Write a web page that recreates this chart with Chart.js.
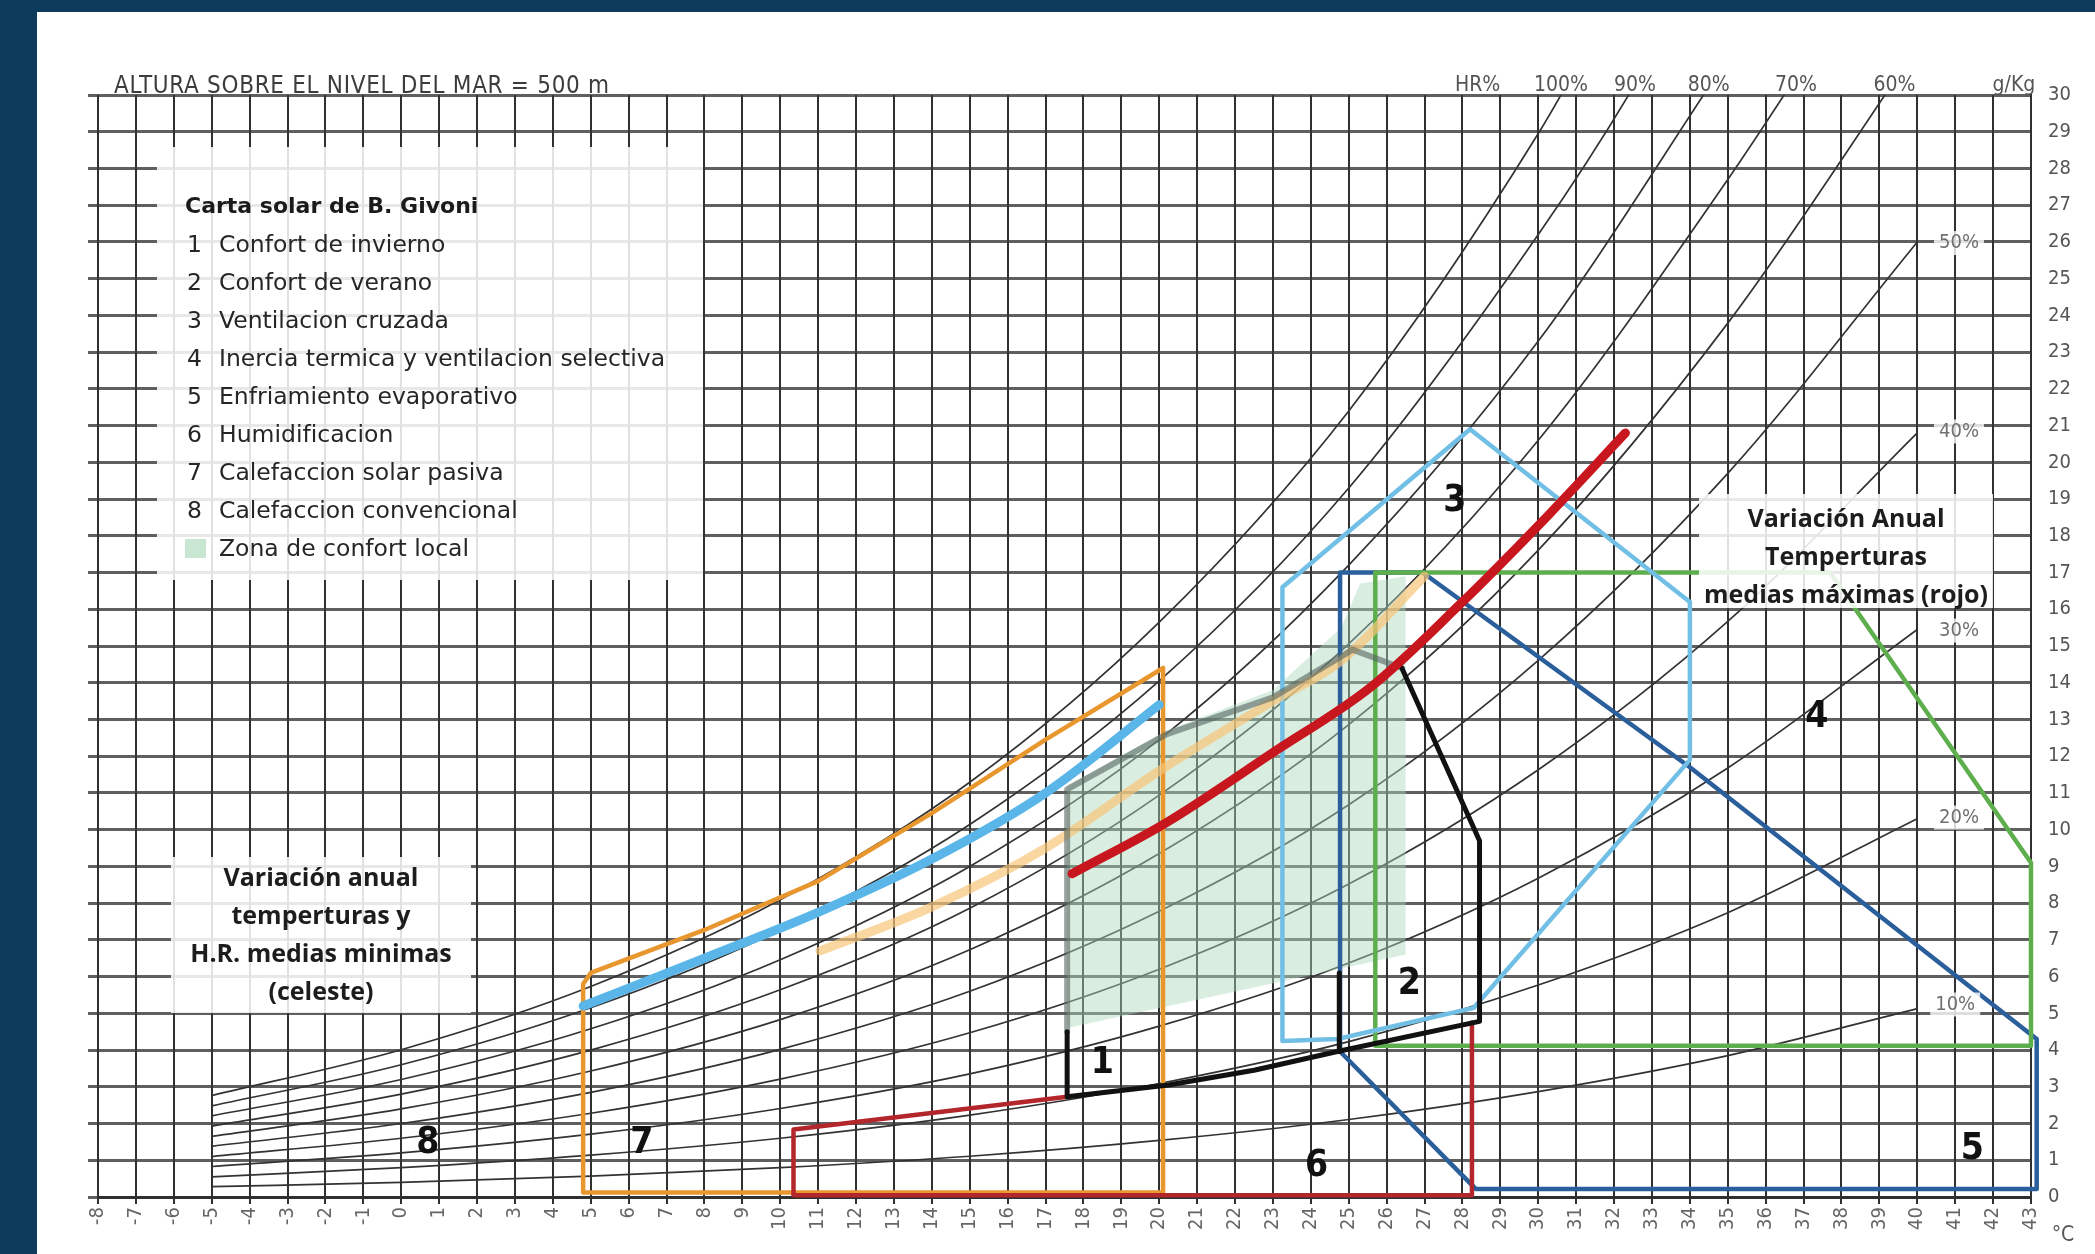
<!DOCTYPE html>
<html lang="es">
<head>
<meta charset="UTF-8">
<meta name="viewport" content="width=device-width, initial-scale=1.0">
<title>Carta bioclimática de B. Givoni</title>
<script src="https://cdn.jsdelivr.net/npm/chart.js@4.4.1/dist/chart.umd.min.js"></script>
<style>
  * { margin: 0; padding: 0; box-sizing: border-box; }
  body {
    width: 2095px; height: 1254px; overflow: hidden; position: relative;
    background: #0e3a5b; font-family: 'DejaVu Sans', sans-serif; color: #1d1d1d;
  }
  .sheet { position: absolute; left: 37px; top: 12px; right: 0; bottom: 0; background: #fff; }
  #chart { position: absolute; left: 0; top: 0; }
  .header {
    position: absolute; left: 114px; top: 71px; white-space: nowrap;
    font: 24px 'DejaVu Sans Condensed', 'Liberation Sans Narrow', sans-serif;
    color: #3c3c3c; letter-spacing: 0.7px;
  }
  .box { position: absolute; background: rgba(255, 255, 255, 0.86); }
  .legend { left: 157px; top: 147px; width: 546px; height: 433px; padding: 40px 0 0 28px; font-size: 23.5px; line-height: 38px; white-space: nowrap; color: #262626; }
  .legend .title { font-weight: 700; color: #1a1a1a; font-size: 22px; }
  .legend .num { display: inline-block; width: 34px; padding-left: 2px; }
  .legend .swatch { display: inline-block; width: 21px; height: 19px; background: #c9e6d3; vertical-align: -2px; margin-right: 13px; }
  .note { font-family: 'Open Sans', sans-serif; font-weight: 700; font-size: 25px; line-height: 38px; text-align: center; white-space: nowrap; }
  .note-min { left: 171px; top: 857px; width: 300px; height: 156px; }
  .note-max { left: 1699px; top: 494px; width: 294px; height: 114px; padding-top: 4px; }
</style>
</head>
<body>
  <div class="sheet"></div>
  <canvas id="chart" width="2095" height="1254"></canvas>
  <div class="header">ALTURA SOBRE EL NIVEL DEL MAR = 500 m</div>

  <div class="box legend">
    <div class="title">Carta solar de B. Givoni</div>
    <div><span class="num">1</span>Confort de invierno</div>
    <div><span class="num">2</span>Confort de verano</div>
    <div><span class="num">3</span>Ventilacion cruzada</div>
    <div><span class="num">4</span>Inercia termica y ventilacion selectiva</div>
    <div><span class="num">5</span>Enfriamiento evaporativo</div>
    <div><span class="num">6</span>Humidificacion</div>
    <div><span class="num">7</span>Calefaccion solar pasiva</div>
    <div><span class="num">8</span>Calefaccion convencional</div>
    <div><span class="swatch"></span>Zona de confort local</div>
  </div>

  <div class="box note note-min">
    <div>Variación anual</div>
    <div>temperturas y</div>
    <div>H.R. medias minimas</div>
    <div>(celeste)</div>
  </div>

  <div class="box note note-max">
    <div>Variación Anual</div>
    <div>Temperturas</div>
    <div>medias máximas (rojo)</div>
  </div>

  <script>
    const rhTemps = [-5, 0, 5, 10, 15, 20, 25, 30, 35, 40];
    const rh10 = [0.28, 0.40, 0.57, 0.80, 1.11, 1.54, 2.11, 2.87, 3.85, 5.13];
    const rh20 = [0.55, 0.80, 1.14, 1.60, 2.23, 3.09, 4.23, 5.77, 7.74, 10.3];
    const rh30 = [0.83, 1.20, 1.71, 2.41, 3.35, 4.65, 6.37, 8.68, 11.68, 15.45];
    const rh40 = [1.10, 1.60, 2.28, 3.21, 4.47, 6.20, 8.52, 11.63, 15.67, 20.8];
    const rh50 = [1.38, 2.00, 2.85, 4.02, 5.60, 7.78, 10.68, 14.61, 19.70, 26.0];
    const rh60 = [1.65, 2.40, 3.43, 4.83, 6.73, 9.35, 12.86, 17.61, 23.79, 31.3];
    const rh70Temps = [-5, 0, 5, 10, 15, 20, 25, 30, 35, 37.5];
    const rh70 = [1.93, 2.80, 4.00, 5.64, 7.86, 10.94, 15.06, 20.6, 27.7, 31.6];
    const rh80Temps = [-5, 0, 5, 10, 15, 20, 25, 30, 35];
    const rh80 = [2.21, 3.20, 4.58, 6.46, 9.00, 12.45, 17.2, 23.3, 31.0];
    const rh90Temps = [-5, 0, 5, 10, 15, 20, 25, 30, 32.5, 35];
    const rh90 = [2.48, 3.60, 5.15, 7.27, 10.14, 14.05, 19.3, 26.2, 30.2, 34.9];
    const rh100Temps = [-5, 0, 5, 10, 15, 20, 25, 30, 32];
    const rh100 = [2.76, 4.01, 5.73, 8.09, 11.29, 15.65, 21.4, 28.95, 32.6];

    // etiquetas de humedad relativa
    const rhLabelText = ['10%', '20%', '30%', '40%', '50%'];
    const rhLabelT = [41.0, 41.1, 41.1, 41.1, 41.1];
    const rhLabelW = [5.24, 10.33, 15.42, 20.84, 25.97];
    const topLabelText = ['HR%', '100%', '90%', '80%', '70%', '60%', 'g/Kg'];
    const topLabelT = [28.4, 30.6, 32.55, 34.5, 36.8, 39.4, 42.55];

    // zonas de la carta
    const zone7T = [4.8, 4.8, 5.0, 8.0, 11.0, 14.0, 17.0, 20.1, 20.1, 4.8];
    const zone7W = [0.12, 5.8, 6.1, 7.27, 8.6, 10.45, 12.45, 14.4, 0.12, 0.12];
    const zone6T = [17.57, 10.35, 10.35, 28.25, 28.25];
    const zone6W = [2.73, 1.84, 0.05, 0.05, 4.75];
    const zone1T = [17.57, 17.57, 20.24, 22.5, 24.7, 28.45, 28.45, 26.4];
    const zone1W = [4.5, 2.73, 3.05, 3.45, 3.96, 4.78, 9.7, 14.4];
    const zone2T = [24.75, 24.75];
    const zone2W = [3.96, 6.1];
    const comfortLineT = [17.57, 17.57, 20.2, 23.0, 25.1, 26.4];
    const comfortLineW = [4.5, 11.1, 12.6, 13.6, 14.9, 14.4];
    const comfortT = [17.57, 17.57, 20.2, 23.0, 24.8, 25.3, 26.5, 26.5, 17.57];
    const comfortW = [4.6, 11.2, 12.7, 13.8, 15.5, 16.7, 16.9, 6.6, 4.6];
    const zone3T = [23.25, 23.25, 28.2, 34.0, 34.0, 28.3, 24.7, 23.25];
    const zone3W = [4.25, 16.6, 20.9, 16.2, 11.9, 5.15, 4.3, 4.25];
    const zone4T = [25.7, 25.7, 37.7, 43.0, 43.0, 25.7];
    const zone4W = [4.12, 17.0, 17.0, 9.1, 4.12, 4.12];
    const zone5T = [24.77, 24.77, 26.95, 34.0, 43.15, 43.15, 28.35, 24.77];
    const zone5W = [3.96, 17.0, 17.0, 11.7, 4.3, 0.22, 0.22, 3.96];

    // variacion anual: maximas (rojo), minimas (celeste) y la banda clara
    const maxT = [17.7, 20.2, 23.0, 25.6, 27.9, 30.3, 32.3];
    const maxW = [8.8, 10.2, 12.1, 13.9, 16.1, 18.6, 20.8];
    const minT = [4.8, 8.0, 11.0, 14.0, 17.0, 20.0];
    const minW = [5.2, 6.5, 7.75, 9.2, 11.0, 13.4];
    const meanT = [11.05, 14.0, 17.0, 20.0, 23.0, 24.8, 27.0];
    const meanW = [6.7, 7.9, 9.5, 11.6, 13.5, 14.6, 16.9];

    const zoneLabels = ['1', '2', '3', '4', '5', '6', '7', '8'];
    const zoneLabelT = [18.5, 26.6, 27.8, 37.35, 41.45, 24.15, 6.35, 0.7];
    const zoneLabelW = [3.65, 5.8, 18.95, 13.05, 1.3, 0.83, 1.45, 1.45];

    const condensed = '"DejaVu Sans Condensed", "Liberation Sans Narrow", sans-serif';

    function pts(ts, ws) {
      return ts.map((t, i) => ({ x: t, y: ws[i] }));
    }

    function curve(ts, ws) {
      return {
        data: pts(ts, ws), showLine: true, pointRadius: 0, borderColor: '#333',
        borderWidth: 1.7, cubicInterpolationMode: 'monotone', order: 100
      };
    }

    function outline(ts, ws, color, width, order, extra) {
      return Object.assign({
        data: pts(ts, ws), showLine: true, pointRadius: 0, borderColor: color,
        borderWidth: width, borderJoinStyle: 'round', borderCapStyle: 'round',
        tension: 0, order: order, clip: 14
      }, extra || {});
    }

    const chartText = {
      id: 'chartText',
      afterDatasetsDraw(chart) {
        const { ctx, chartArea } = chart;
        const x = chart.scales.x, y = chart.scales.y;
        ctx.save();
        ctx.textAlign = 'center';
        ctx.textBaseline = 'middle';

        ctx.font = '20px ' + condensed;
        rhLabelText.forEach((t, i) => {
          const px = x.getPixelForValue(rhLabelT[i]);
          const py = y.getPixelForValue(rhLabelW[i]);
          const w = ctx.measureText(t).width + 10;
          ctx.fillStyle = 'rgba(255,255,255,0.8)';
          ctx.fillRect(px - w / 2, py - 12, w, 24);
          ctx.fillStyle = '#707070';
          ctx.fillText(t, px, py);
        });

        ctx.font = '21px ' + condensed;
        ctx.fillStyle = '#555';
        topLabelText.forEach((t, i) => {
          ctx.fillText(t, x.getPixelForValue(topLabelT[i]), chartArea.top - 9);
        });
        ctx.fillText('°C', chartArea.right + 32, chartArea.bottom + 39);

        ctx.font = 'bold 37px "Liberation Sans Narrow", "DejaVu Sans Condensed", sans-serif';
        ctx.fillStyle = '#111';
        zoneLabels.forEach((t, i) => {
          ctx.fillText(t, x.getPixelForValue(zoneLabelT[i]), y.getPixelForValue(zoneLabelW[i]));
        });
        ctx.restore();
      }
    };

    const ctx = document.getElementById('chart').getContext('2d');
    new Chart(ctx, {
      type: 'scatter',
      data: {
        datasets: [
          curve(rhTemps, rh10), curve(rhTemps, rh20), curve(rhTemps, rh30),
          curve(rhTemps, rh40), curve(rhTemps, rh50), curve(rhTemps, rh60),
          curve(rh70Temps, rh70), curve(rh80Temps, rh80), curve(rh90Temps, rh90),
          curve(rh100Temps, rh100),
          outline(comfortT, comfortW, 'rgba(0,0,0,0)', 0, 90,
            { fill: 'shape', backgroundColor: 'rgba(170, 218, 188, 0.45)' }),
          outline(zone5T, zone5W, '#2a5f9b', 4.5, 60),
          outline(zone4T, zone4W, '#5fae4e', 4.5, 58),
          outline(zone3T, zone3W, '#72bfe6', 4.5, 55),
          outline(zone7T, zone7W, '#e8972f', 4.5, 50),
          outline(zone6T, zone6W, '#b3262b', 4.5, 48),
          outline(minT, minW, '#5ab6e8', 9, 40, { cubicInterpolationMode: 'monotone' }),
          outline(meanT, meanW, 'rgba(248, 196, 120, 0.7)', 9, 38, { cubicInterpolationMode: 'monotone' }),
          outline(comfortLineT, comfortLineW, 'rgba(85, 100, 95, 0.6)', 6, 35),
          outline(zone1T, zone1W, '#111', 5, 20),
          outline(zone2T, zone2W, '#111', 5, 20),
          outline(maxT, maxW, '#c8161e', 9, 10, { cubicInterpolationMode: 'monotone' })
        ]
      },
      options: {
        responsive: false,
        devicePixelRatio: 1,
        animation: false,
        events: [],
        layout: { padding: { top: 95, left: 0, right: 0, bottom: 0 } },
        plugins: { legend: { display: false }, tooltip: { enabled: false } },
        scales: {
          x: {
            type: 'linear', min: -8, max: 43,
            afterFit: s => { s.height = 57; },
            grid: { color: '#303030', lineWidth: 2, tickLength: 7 },
            border: { color: '#303030', width: 3 },
            ticks: {
              stepSize: 1, autoSkip: false, maxRotation: 90, minRotation: 90, padding: 3,
              color: '#666', font: { family: condensed, size: 20 }
            }
          },
          y: {
            type: 'linear', position: 'right', min: 0, max: 30,
            afterFit: s => { s.width = 64; },
            grid: { color: 'rgba(55,55,55,0.8)', lineWidth: 3, drawTicks: false },
            border: { color: '#303030', width: 2 },
            ticks: {
              stepSize: 1, autoSkip: false, padding: 17,
              color: '#555', font: { family: condensed, size: 20 }
            }
          },
          yL: {
            type: 'linear', position: 'left', min: 0, max: 30,
            afterFit: s => { s.width = 98; },
            grid: { color: 'rgba(55,55,55,0.8)', lineWidth: 3, drawOnChartArea: false, tickLength: 10 },
            border: { display: false },
            ticks: { stepSize: 1, display: false }
          }
        }
      },
      plugins: [chartText]
    });
  </script>
</body>
</html>
